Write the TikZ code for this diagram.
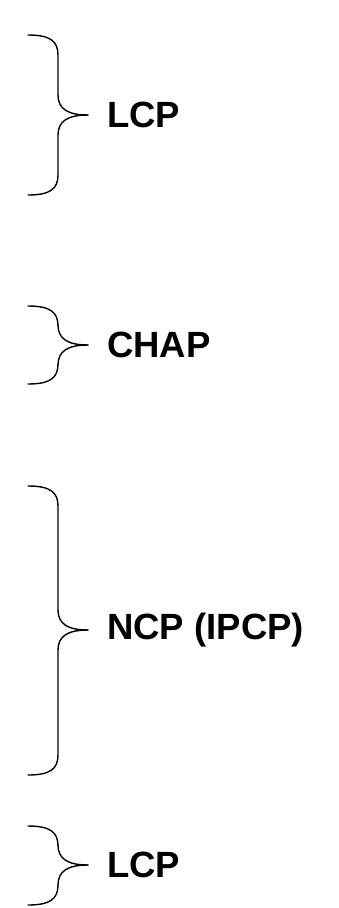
\documentclass[tikz,border=0pt]{standalone}
\usepackage{fontspec}
\setmainfont{Liberation Sans}
\begin{document}
\begin{tikzpicture}[x=1pt,y=-1pt,
  bracepath/.style={draw=black,line width=1.4pt,line cap=round},
  label/.style={anchor=west,inner sep=0pt,font=\fontsize{36.5}{42}\selectfont\bfseries}]
\useasboundingbox (0,0) rectangle (339,908);
% \bracepiece{top}{tip}{bottom}{name}{text}
\newcommand{\bracepiece}[5]{%
  \coordinate (#4) at (88,#2);
  \draw[bracepath] (28,#1) .. controls (50,#1) and (58,#1+6) .. (58,#1+20)
    -- (58,#2-20) .. controls (58,#2-6) and (68,#2) .. (#4);
  \draw[bracepath] (#4) .. controls (68,#2) and (58,#2+6) .. (58,#2+20)
    -- (58,#3-20) .. controls (58,#3-6) and (50,#3) .. (28,#3);
  \node[label] (#4t) at (107,#2) {#5};
}
\bracepiece{35}{115}{195}{lcpa}{LCP}
\bracepiece{306}{345}{384}{chap}{CHAP}
\bracepiece{486}{630}{775}{ncp}{NCP (IPCP)}
\bracepiece{826}{865}{905}{lcpb}{LCP}
\end{tikzpicture}
\end{document}
